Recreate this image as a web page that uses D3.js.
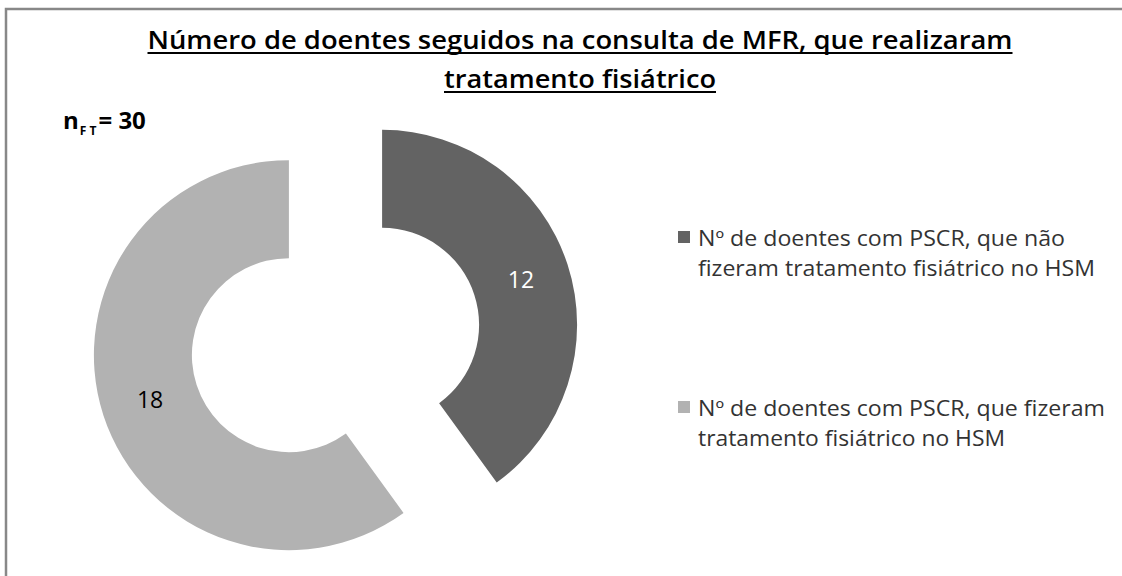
<!DOCTYPE html>
<html>
<head>
<meta charset="utf-8">
<script src="https://cdn.jsdelivr.net/npm/d3@7"></script>
<style>
  body { margin: 0; background: #fff; }
  svg { display: block; font-family: "Open Sans", sans-serif; }
</style>
</head>
<body>
<svg></svg>
<script>
// chart data
var categories = [
    "Nº de doentes com PSCR, que não fizeram tratamento fisiátrico no HSM",
    "Nº de doentes com PSCR, que fizeram tratamento fisiátrico no HSM"
];
var values = [12, 18];
var legendLines = [
    ["Nº de doentes com PSCR, que não", "fizeram tratamento fisiátrico no HSM"],
    ["Nº de doentes com PSCR, que fizeram", "tratamento fisiátrico no HSM"]
];
var titleLines = [
    "Número de doentes seguidos na consulta de MFR, que realizaram",
    "tratamento fisiátrico"
];
var total = 30;

var svgWidth = 1122;
var svgHeight = 576;
var svg = d3.select('svg')
    .attr("width", svgWidth)
    .attr("height", svgHeight);

// frame (only top and left visible)
svg.append("rect")
    .attr("x", 6)
    .attr("y", 9)
    .attr("width", 1200)
    .attr("height", 700)
    .attr("fill", "none")
    .attr("stroke", "#888")
    .attr("stroke-width", 2.5);

// title
var titleWidths = [865, 272];
svg.selectAll("text.title").data(titleLines).enter()
    .append("text")
    .attr("class", "title")
    .text(function (d) { return d; })
    .attr("x", 580)
    .attr("y", function (d, i) { return 49 + i * 39; })
    .attr("text-anchor", "middle")
    .attr("font-size", 25)
    .attr("font-weight", 600)
    .attr("fill", "#000")
    .attr("textLength", function (d, i) { return titleWidths[i]; })
    .attr("lengthAdjust", "spacingAndGlyphs");

// underline
svg.selectAll("line.uline").data(titleLines).enter()
    .append("line")
    .attr("class", "uline")
    .attr("x1", function (d, i) { return 580 - titleWidths[i] / 2; })
    .attr("x2", function (d, i) { return 580 + titleWidths[i] / 2; })
    .attr("y1", function (d, i) { return 53 + i * 39; })
    .attr("y2", function (d, i) { return 53 + i * 39; })
    .attr("stroke", "#000")
    .attr("stroke-width", 2);

// n FT = 30
var nText = svg.append("text")
    .attr("x", 63)
    .attr("y", 129)
    .attr("font-weight", 700)
    .attr("fill", "#000");
nText.append("tspan").attr("font-size", 24).text("n");
nText.append("tspan").attr("font-size", 12).attr("dy", 6).attr("dx", 1).text("F T");
nText.append("tspan").attr("font-size", 24).attr("dy", -6).attr("dx", 2).text("= " + total);

// donut
var colors = d3.scaleOrdinal().domain(categories).range(["#636363", "#b2b2b2"]);
var labelColors = ["#fff", "#000"];

var outerRadius = 195;
var innerRadius = 97;
var explode = 49;
var cx = 335.5, cy = 340;

var pie = d3.pie().sort(null).value(function (d) { return d; });
var arc = d3.arc().innerRadius(innerRadius).outerRadius(outerRadius);
var arcs = pie(values);

var slices = svg.selectAll("g.slice").data(arcs).enter()
    .append("g")
    .attr("class", "slice")
    .attr("transform", function (d) {
        var mid = (d.startAngle + d.endAngle) / 2;
        var x = cx + explode * Math.sin(mid);
        var y = cy - explode * Math.cos(mid);
        return "translate(" + x + "," + y + ")";
    });

slices.append("path")
    .attr("d", arc)
    .attr("fill", function (d, i) { return colors(categories[i]); });

slices.append("text")
    .text(function (d) { return d.value; })
    .attr("transform", function (d) { return "translate(" + arc.centroid(d) + ")"; })
    .attr("text-anchor", "middle")
    .attr("dy", "0.35em")
    .attr("font-size", 23)
    .attr("fill", function (d, i) { return labelColors[i]; });

// legend
var legendY = [231, 401];
var legendWidths = [[367, 397], [407, 307]];
var legend = svg.selectAll("g.legend").data(categories).enter()
    .append("g")
    .attr("class", "legend")
    .attr("transform", function (d, i) { return "translate(678," + legendY[i] + ")"; });

legend.append("rect")
    .attr("width", 12)
    .attr("height", 12)
    .attr("fill", function (d) { return colors(d); });

legend.each(function (d, i) {
    d3.select(this).selectAll("text").data(legendLines[i]).enter()
        .append("text")
        .text(function (t) { return t; })
        .attr("x", 20)
        .attr("y", function (t, j) { return 15 + j * 30; })
        .attr("font-size", 21)
        .attr("fill", "#333")
        .attr("textLength", function (t, j) { return legendWidths[i][j]; })
        .attr("lengthAdjust", "spacingAndGlyphs");
});
</script>
</body>
</html>
